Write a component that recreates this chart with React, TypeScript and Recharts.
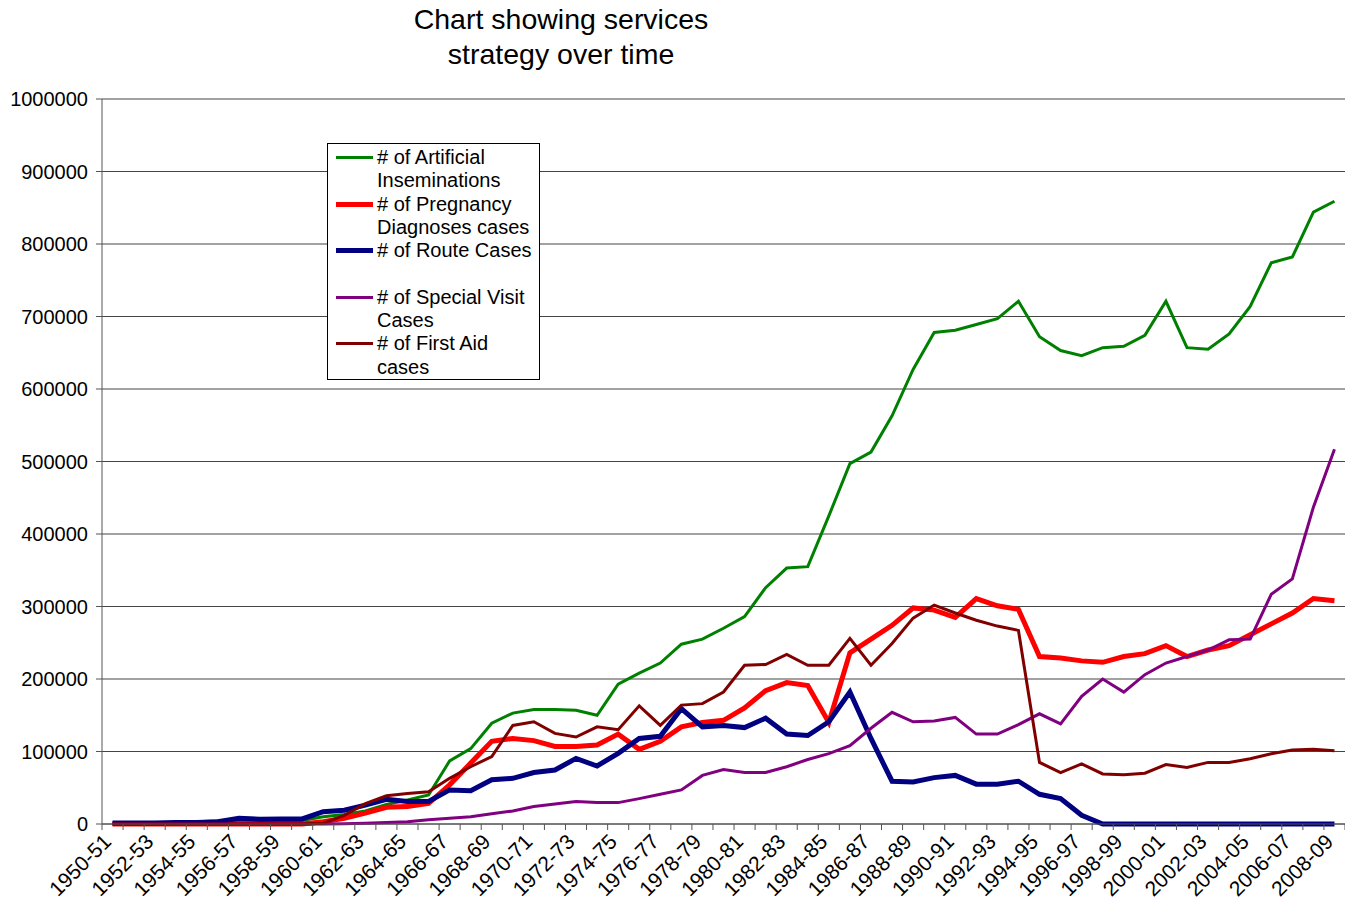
import { LineChart, Line, XAxis, YAxis, CartesianGrid } from "recharts";

const YEARS = [
  "1950-51", "1951-52", "1952-53", "1953-54", "1954-55", "1955-56", "1956-57", "1957-58", "1958-59", "1959-60",
  "1960-61", "1961-62", "1962-63", "1963-64", "1964-65", "1965-66", "1966-67", "1967-68", "1968-69", "1969-70",
  "1970-71", "1971-72", "1972-73", "1973-74", "1974-75", "1975-76", "1976-77", "1977-78", "1978-79", "1979-80",
  "1980-81", "1981-82", "1982-83", "1983-84", "1984-85", "1985-86", "1986-87", "1987-88", "1988-89", "1989-90",
  "1990-91", "1991-92", "1992-93", "1993-94", "1994-95", "1995-96", "1996-97", "1997-98", "1998-99", "1999-00",
  "2000-01", "2001-02", "2002-03", "2003-04", "2004-05", "2005-06", "2006-07", "2007-08", "2008-09",
];

const AI = [
  1000, 1000, 1500, 2000, 3000, 4000, 5000, 5000, 5000, 5000,
  10000, 13000, 18000, 27000, 33000, 40000, 87000, 104000, 139000, 153000,
  158000, 158000, 157000, 150000, 193000, 208000, 222000, 248000, 255000, 270000,
  286000, 326000, 353000, 355000, 425000, 497000, 513000, 563000, 627000, 678000,
  681000, 689000, 697000, 721000, 672000, 653000, 646000, 657000, 659000, 674000,
  721000, 657000, 655000, 676000, 714000, 774000, 782000, 844000, 859000,
];

const PREGNANCY = [
  0, 0, 0, 0, 0, 0, 0, 0, 0, 0,
  3000, 8000, 15000, 23000, 24000, 28500, 54000, 84000, 114000, 118000,
  115000, 107000, 107000, 109000, 124000, 103000, 114000, 134000, 140000, 143000,
  160000, 184000, 195000, 191000, 140000, 236000, 255000, 274000, 298000, 295000,
  285000, 311000, 301000, 296000, 231000, 229000, 225000, 223000, 231000, 235000,
  246000, 231000, 240000, 246000, 261000, 276000, 291000, 311000, 308000,
];

const ROUTE = [
  1500, 1500, 1500, 2000, 2000, 3000, 8000, 6500, 7000, 7000,
  17000, 19000, 26000, 34000, 31000, 31000, 47000, 46000, 61000, 63000,
  71000, 74500, 90500, 80000, 97500, 118000, 121000, 159000, 134000, 136000,
  133000, 146000, 124000, 122000, 141000, 182000, 118000, 59000, 58000, 64000,
  67000, 55000, 55000, 59000, 41000, 35000, 12000, 0, 0, 0,
  0, 0, 0, 0, 0, 0, 0, 0, 0,
];

const SPECIAL = [
  0, 0, 0, 0, 0, 0, 0, 0, 0, 0,
  0, 500, 1000, 2000, 3000, 6000, 8000, 10000, 14000, 18000,
  24000, 27500, 31000, 29500, 29500, 35000, 41000, 47000, 67000, 75000,
  71000, 71000, 79000, 89000, 97000, 108000, 132000, 154000, 141000, 142000,
  147000, 124000, 124000, 137000, 152000, 138000, 176000, 200000, 182000, 206000,
  222000, 231000, 240000, 254000, 255000, 317000, 338000, 437000, 517000,
];

const FIRST_AID = [
  0, 0, 0, 0, 0, 0, 0, 0, 0, 0,
  1000, 12000, 28000, 39000, 42000, 44500, 63000, 79000, 93000, 136000,
  141000, 125000, 120000, 134000, 130000, 163000, 136000, 164000, 166000, 182000,
  219000, 220000, 234000, 219000, 219000, 256000, 219000, 249000, 284000, 302000,
  291000, 281000, 273000, 267000, 85000, 71000, 83000, 69000, 68000, 70000,
  82000, 78000, 85000, 85000, 90000, 97000, 102000, 103000, 101000,
];

const Y_TICKS = [0, 100000, 200000, 300000, 400000, 500000, 600000, 700000, 800000, 900000, 1000000];

const SERIES = [
  { key: "ai", label: ["# of Artificial", "Inseminations"], color: "#008000", width: 3 },
  { key: "pd", label: ["# of Pregnancy", "Diagnoses cases"], color: "#ff0000", width: 5 },
  { key: "route", label: ["# of Route Cases", ""], color: "#000080", width: 5 },
  { key: "special", label: ["# of Special Visit", "Cases"], color: "#800080", width: 3 },
  { key: "firstAid", label: ["# of First Aid", "cases"], color: "#800000", width: 3 },
];

const data = YEARS.map((year, i) => ({
  year,
  ai: AI[i],
  pd: PREGNANCY[i],
  route: ROUTE[i],
  special: SPECIAL[i],
  firstAid: FIRST_AID[i],
}));

const FONT = "'Liberation Sans', Arial, sans-serif";
const PLOT_LEFT = 102;
const PLOT_WIDTH = 1243;
const BAND = PLOT_WIDTH / YEARS.length;

function YearTick(props: any) {
  const { x, y, payload, index } = props;
  const i = payload?.index ?? index;
  const left = x - BAND / 2;
  const ax = x;
  const ay = y + 19;
  return (
    <g>
      <line x1={left} y1={y} x2={left} y2={y + 6} stroke="#555" />
      {i === YEARS.length - 1 && <line x1={x + BAND / 2} y1={y} x2={x + BAND / 2} y2={y + 6} stroke="#555" />}
      {i % 2 === 0 && (
        <text
          x={ax}
          y={ay}
          textAnchor="end"
          fontSize={21}
          fontFamily={FONT}
          fill="#000"
          transform={`rotate(-45 ${ax} ${ay})`}
        >
          {payload.value}
        </text>
      )}
    </g>
  );
}

function LegendBox() {
  return (
    <div
      style={{
        position: "absolute",
        left: 327,
        top: 143,
        border: "1px solid #000",
        background: "#fff",
        width: 213,
        height: 237,
        boxSizing: "border-box",
        padding: "2px 0 0 7px",
        fontFamily: FONT,
        fontSize: 20,
        lineHeight: "23.3px",
        color: "#000",
        zIndex: 2,
      }}
    >
      {SERIES.map((s) => (
        <div key={s.key} style={{ display: "flex" }}>
          <svg width={42} height={23} style={{ flex: "none" }}>
            <line x1={1} x2={38} y1={11.5} y2={11.5} stroke={s.color} strokeWidth={s.width} />
          </svg>
          <div style={{ whiteSpace: "pre" }}>
            {s.label[0]}
            <br />
            {s.label[1] || " "}
          </div>
        </div>
      ))}
    </div>
  );
}

export default function App() {
  return (
    <div style={{ position: "absolute", left: 0, top: 0, width: 1345, height: 909, background: "#fff" }}>
      <div
        style={{
          position: "absolute",
          left: 311,
          top: 2,
          width: 500,
          textAlign: "center",
          fontFamily: FONT,
          fontSize: 28.5,
          lineHeight: "35px",
          color: "#000",
          zIndex: 2,
        }}
      >
        Chart showing services
        <br />
        strategy over time
      </div>
      <LegendBox />
      <LineChart width={1345} height={909} data={data} margin={{ top: 99, right: 0, left: 0, bottom: 0 }}>
        <CartesianGrid vertical={false} stroke="#444" strokeWidth={1} />
        <XAxis
          dataKey="year"
          height={85}
          interval={0}
          padding={{ left: BAND / 2, right: BAND / 2 }}
          tickSize={0}
          tickMargin={0}
          tickLine={false}
          axisLine={{ stroke: "#555" }}
          tick={<YearTick />}
        />
        <YAxis
          width={PLOT_LEFT}
          domain={[0, 1000000]}
          ticks={Y_TICKS}
          interval={0}
          tickSize={6}
          tickMargin={8}
          tickLine={{ stroke: "#555" }}
          axisLine={{ stroke: "#555" }}
          tick={{ fontSize: 20, fontFamily: FONT, fill: "#000" }}
        />
        {SERIES.map((s) => (
          <Line
            key={s.key}
            dataKey={s.key}
            type="linear"
            stroke={s.color}
            strokeWidth={s.width}
            dot={false}
            isAnimationActive={false}
          />
        ))}
      </LineChart>
    </div>
  );
}
